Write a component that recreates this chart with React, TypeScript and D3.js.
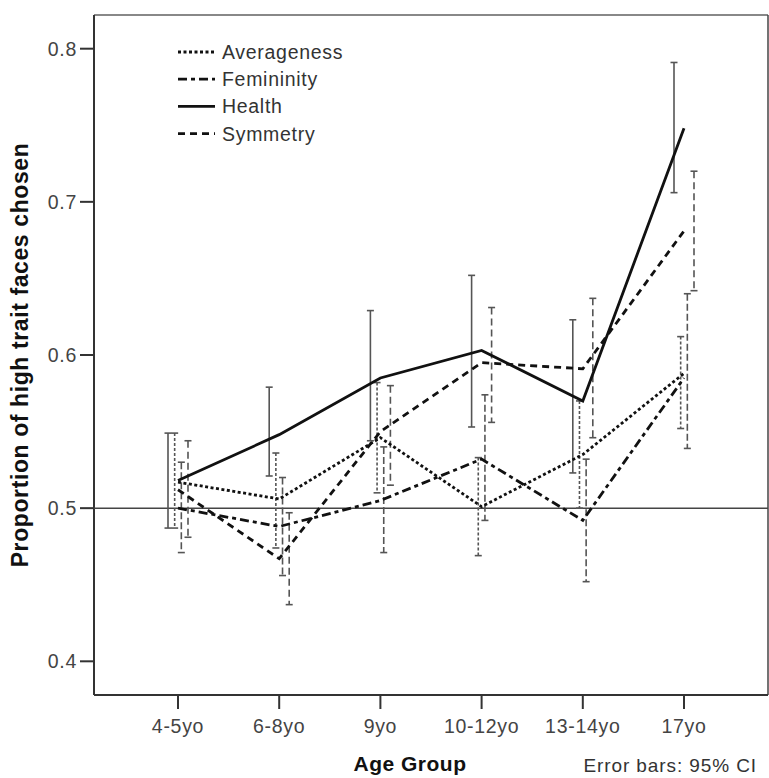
import * as d3 from "d3"

const ageGroups = ["4-5yo", "6-8yo", "9yo", "10-12yo", "13-14yo", "17yo"]
const seriesNames = ["Averageness", "Femininity", "Health", "Symmetry"]
const dodgeOrder = ["Health", "Averageness", "Femininity", "Symmetry"]

const averagenessMean = [0.517, 0.506, 0.546, 0.501, 0.535, 0.588]
const averagenessLow = [0.487, 0.474, 0.51, 0.469, 0.5, 0.552]
const averagenessHigh = [0.549, 0.536, 0.582, 0.533, 0.57, 0.612]

const femininityMean = [0.5, 0.488, 0.505, 0.532, 0.492, 0.585]
const femininityLow = [0.471, 0.456, 0.471, 0.492, 0.452, 0.539]
const femininityHigh = [0.53, 0.52, 0.54, 0.574, 0.532, 0.64]

const healthMean = [0.518, 0.548, 0.585, 0.603, 0.57, 0.748]
const healthLow = [0.487, 0.521, 0.544, 0.553, 0.523, 0.706]
const healthHigh = [0.549, 0.579, 0.629, 0.652, 0.623, 0.791]

const symmetryMean = [0.512, 0.467, 0.55, 0.595, 0.591, 0.681]
const symmetryLow = [0.481, 0.437, 0.515, 0.556, 0.546, 0.642]
const symmetryHigh = [0.544, 0.497, 0.58, 0.631, 0.637, 0.72]

const yTicks = [0.4, 0.5, 0.6, 0.7, 0.8]
const referenceValue = 0.5

const series = [
  { name: "Averageness", mean: averagenessMean, low: averagenessLow, high: averagenessHigh, dash: "3,2.5", barDash: "3,2" },
  { name: "Femininity", mean: femininityMean, low: femininityLow, high: femininityHigh, dash: "9,4,4,4", barDash: "7,3" },
  { name: "Health", mean: healthMean, low: healthLow, high: healthHigh, dash: "none", barDash: "none" },
  { name: "Symmetry", mean: symmetryMean, low: symmetryLow, high: symmetryHigh, dash: "7,5", barDash: "7,4" },
]

const width = 769
const height = 778
const plot = { left: 94, right: 768, top: 15, bottom: 695 }
const font = "'Liberation Sans', Arial, sans-serif"

export default function App() {
  const x = d3.scalePoint<string>().domain(ageGroups).range([plot.left, plot.right]).padding(0.83)
  const y = d3.scaleLinear().domain([0.378, 0.822]).range([plot.bottom, plot.top])
  const dodge = d3.scalePoint<string>().domain(dodgeOrder).range([-10, 10])

  const line = d3
    .line<number>()
    .x((_, i) => x(ageGroups[i]) || 0)
    .y((d) => y(d))

  return (
    <svg width={width} height={height} style={{ position: "absolute", left: 0, top: 0, background: "white" }}>
      {/* frame */}
      <line x1={plot.left} x2={plot.right} y1={plot.top} y2={plot.top} stroke="#888" strokeWidth={2} />
      <line x1={plot.right} x2={plot.right} y1={plot.top} y2={plot.bottom} stroke="#444" strokeWidth={1.5} />
      <line x1={plot.left} x2={plot.left} y1={plot.top} y2={plot.bottom} stroke="#333" strokeWidth={2} />
      <line x1={plot.left} x2={plot.right} y1={plot.bottom} y2={plot.bottom} stroke="#333" strokeWidth={2} />

      {/* y axis */}
      {yTicks.map((t) => (
        <g key={t}>
          <line x1={plot.left - 14} x2={plot.left} y1={y(t)} y2={y(t)} stroke="#333" strokeWidth={2} />
          <text x={plot.left - 17} y={y(t) + 7} textAnchor="end" fontFamily={font} fontSize={19.5} letterSpacing={0.7} fill="#444">
            {t.toFixed(1)}
          </text>
        </g>
      ))}
      <text
        transform={`translate(28,${(plot.top + plot.bottom) / 2}) rotate(-90)`}
        textAnchor="middle"
        fontFamily={font}
        fontSize={23}
        fontWeight="bold"
        letterSpacing={0.6}
        fill="#111"
      >
        Proportion of high trait faces chosen
      </text>

      {/* x axis */}
      {ageGroups.map((g) => (
        <g key={g}>
          <line x1={x(g)} x2={x(g)} y1={plot.bottom} y2={plot.bottom + 14} stroke="#333" strokeWidth={2} />
          <text x={x(g)} y={733} textAnchor="middle" fontFamily={font} fontSize={19.5} letterSpacing={0.7} fill="#444">
            {g}
          </text>
        </g>
      ))}
      <text x={410} y={771} textAnchor="middle" fontFamily={font} fontSize={21} fontWeight="bold" letterSpacing={0.5} fill="#111">
        Age Group
      </text>
      <text x={757} y={772} textAnchor="end" fontFamily={font} fontSize={19} letterSpacing={0.9} fill="#333">
        Error bars: 95% CI
      </text>

      {/* reference line */}
      <line x1={plot.left} x2={plot.right} y1={y(referenceValue)} y2={y(referenceValue)} stroke="#444" strokeWidth={1.5} />

      {/* error bars */}
      {series.map((s) =>
        ageGroups.map((g, i) => {
          const cx = (x(g) || 0) + (dodge(s.name) || 0)
          return (
            <g key={s.name + g} stroke="#555" strokeWidth={1.6}>
              <line x1={cx} x2={cx} y1={y(s.high[i])} y2={y(s.low[i])} strokeDasharray={s.barDash} />
              <line x1={cx - 3.5} x2={cx + 3.5} y1={y(s.high[i])} y2={y(s.high[i])} />
              <line x1={cx - 3.5} x2={cx + 3.5} y1={y(s.low[i])} y2={y(s.low[i])} />
            </g>
          )
        })
      )}

      {/* mean lines */}
      {series.map((s) => (
        <path key={s.name} d={line(s.mean) || ""} fill="none" stroke="#111" strokeWidth={2.8} strokeDasharray={s.dash} />
      ))}

      {/* legend */}
      {seriesNames.map((name, i) => {
        const s = series.find((d) => d.name === name)!
        const ly = 52 + i * 27.2
        return (
          <g key={name}>
            <line x1={178} x2={215} y1={ly} y2={ly} stroke="#111" strokeWidth={2.8} strokeDasharray={s.dash} />
            <text x={222} y={ly + 7} fontFamily={font} fontSize={19.5} letterSpacing={0.7} fill="#333">
              {name}
            </text>
          </g>
        )
      })}
    </svg>
  )
}
